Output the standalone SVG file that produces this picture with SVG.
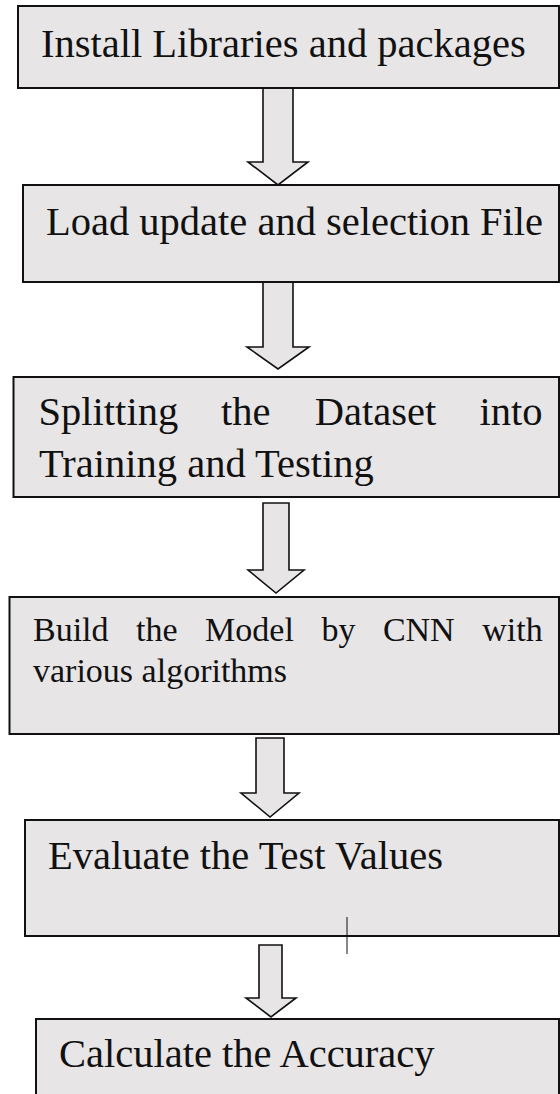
<svg xmlns="http://www.w3.org/2000/svg" width="560" height="1094" viewBox="0 0 560 1094">
<style>
.box{fill:#e7e5e6;stroke:#111;stroke-width:2}
.arr{fill:#e7e5e6;stroke:#111;stroke-width:1.6;stroke-linejoin:miter}
.t{font-family:"Liberation Serif","Times New Roman",serif;font-size:40.5px;fill:#111}
.s{font-size:34px}
</style>
<rect width="560" height="1094" fill="#fff"/>
<g id="connectors">
<path class="arr" d="M263,88 H293 V162 H308 L278,185 L248,162 H263 Z"/>
<path class="arr" d="M263,282 H293 V347 H309 L278,369 L247,347 H263 Z"/>
<path class="arr" d="M263,503 H289 V570 H304 L276,593 L248,570 H263 Z"/>
<path class="arr" d="M256,738 H284 V793 H299 L270,817 L241,793 H256 Z"/>
<path class="arr" d="M259,945 H282 V998 H296 L271,1017 L246,998 H259 Z"/>
</g>
<g id="n1">
<rect class="box" x="18" y="6" width="541" height="82"/>
<text class="t" x="41" y="57">Install Libraries and packages</text>
</g>
<g id="n2">
<rect class="box" x="23" y="185" width="536" height="97"/>
<text class="t" x="46" y="235" font-size="41">Load update and selection File</text>
</g>
<g id="n3">
<rect class="box" x="13.5" y="377" width="545.5" height="120"/>
<text class="t" y="425" font-size="40"><tspan x="38.6">Splitting</tspan><tspan x="221.1">the</tspan><tspan x="314.7">Dataset</tspan><tspan x="479.6">into</tspan></text>
<text class="t" x="39" y="477" font-size="40">Training and Testing</text>
</g>
<g id="n4">
<rect class="box" x="9.5" y="597" width="549.5" height="137"/>
<text class="t s" y="641"><tspan x="33">Build</tspan><tspan x="136.1">the</tspan><tspan x="205.1">Model</tspan><tspan x="321.4">by</tspan><tspan x="382.9">CNN</tspan><tspan x="482.2">with</tspan></text>
<text class="t s" x="33" y="682">various algorithms</text>
</g>
<g id="n5">
<rect class="box" x="25" y="820" width="534" height="116"/>
<text class="t" x="48" y="869">Evaluate the Test Values</text>
<line x1="347" y1="917" x2="347" y2="954" stroke="#111" stroke-width="1"/>
</g>
<g id="n6">
<rect class="box" x="36" y="1019" width="523" height="90"/>
<text class="t" x="59" y="1067">Calculate the Accuracy</text>
</g>
</svg>
